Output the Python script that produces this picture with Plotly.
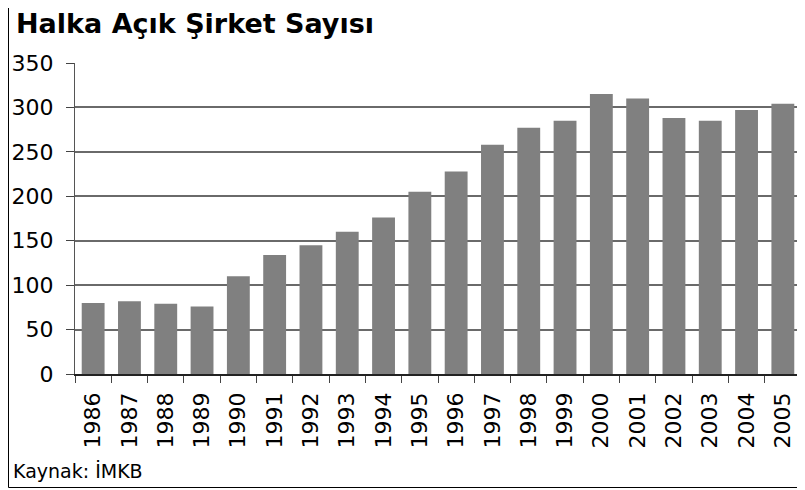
import plotly.graph_objects as go

years = ["1986", "1987", "1988", "1989", "1990", "1991", "1992", "1993", "1994", "1995",
         "1996", "1997", "1998", "1999", "2000", "2001", "2002", "2003", "2004", "2005"]
companies = [80, 82, 79, 76, 110, 134, 145, 160, 176, 205,
             228, 258, 277, 285, 315, 310, 288, 285, 297, 304]
y_ticks = [0, 50, 100, 150, 200, 250, 300, 350]

title_text = "Halka Açık Şirket Sayısı"
source_text = "Kaynak: İMKB"

# page body has an 8px margin; positions below are given in screen pixels
OFF = 8
W, H = 805, 490
L, R, T, B = 75 - OFF, W - (801 - OFF), 63 - OFF, H - (374 - OFF)
pw, ph = W - L - R, H - T - B


def px_x(p):
    return (p - OFF - L) / pw


def px_y(p):
    return (H - B - (p - OFF)) / ph


font_family = "DejaVu Sans, Verdana, sans-serif"

fig = go.Figure(go.Bar(x=years, y=companies, marker=dict(color="#808080", line=dict(width=0))))

fig.update_layout(
    width=W, height=H,
    margin=dict(l=L, r=R, t=T, b=B, pad=0),
    paper_bgcolor="white", plot_bgcolor="white",
    bargap=0.37,
    showlegend=False,
    font=dict(family=font_family, color="black", size=22),
)

fig.update_xaxes(
    type="category",
    automargin=False,
    tickangle=-90,
    ticks="outside", ticklen=7, tickcolor="#444", tickwidth=1,
    tickson="boundaries",
    showline=True, linecolor="#222", linewidth=1.5,
    showgrid=False,
    tickfont=dict(size=22, family=font_family),
    ticklabelstandoff=8,
)
fig.update_yaxes(
    range=[0, 350],
    automargin=False,
    tickvals=y_ticks,
    ticks="outside", ticklen=8, tickcolor="#444", tickwidth=1,
    showline=True, linecolor="#555", linewidth=1,
    showgrid=True, gridcolor="#6a6a6a", gridwidth=1.5,
    zeroline=False,
    tickfont=dict(size=22, family=font_family),
    ticklabelstandoff=8,
)

fig.add_annotation(
    text="<b>" + title_text + "</b>", xref="paper", yref="paper",
    x=px_x(14), y=px_y(24), xanchor="left", yanchor="middle",
    showarrow=False, font=dict(size=27, family=font_family, color="black"),
)
fig.add_annotation(
    text=source_text, xref="paper", yref="paper",
    x=px_x(11), y=px_y(471), xanchor="left", yanchor="middle",
    showarrow=False, font=dict(size=19, family=font_family, color="black"),
)
fig.add_shape(
    type="rect", xref="paper", yref="paper",
    x0=px_x(8.5), x1=px_x(830), y0=px_y(487.5), y1=px_y(-20),
    line=dict(color="black", width=1), fillcolor="rgba(0,0,0,0)", layer="below",
)

fig.write_html("out.html")
